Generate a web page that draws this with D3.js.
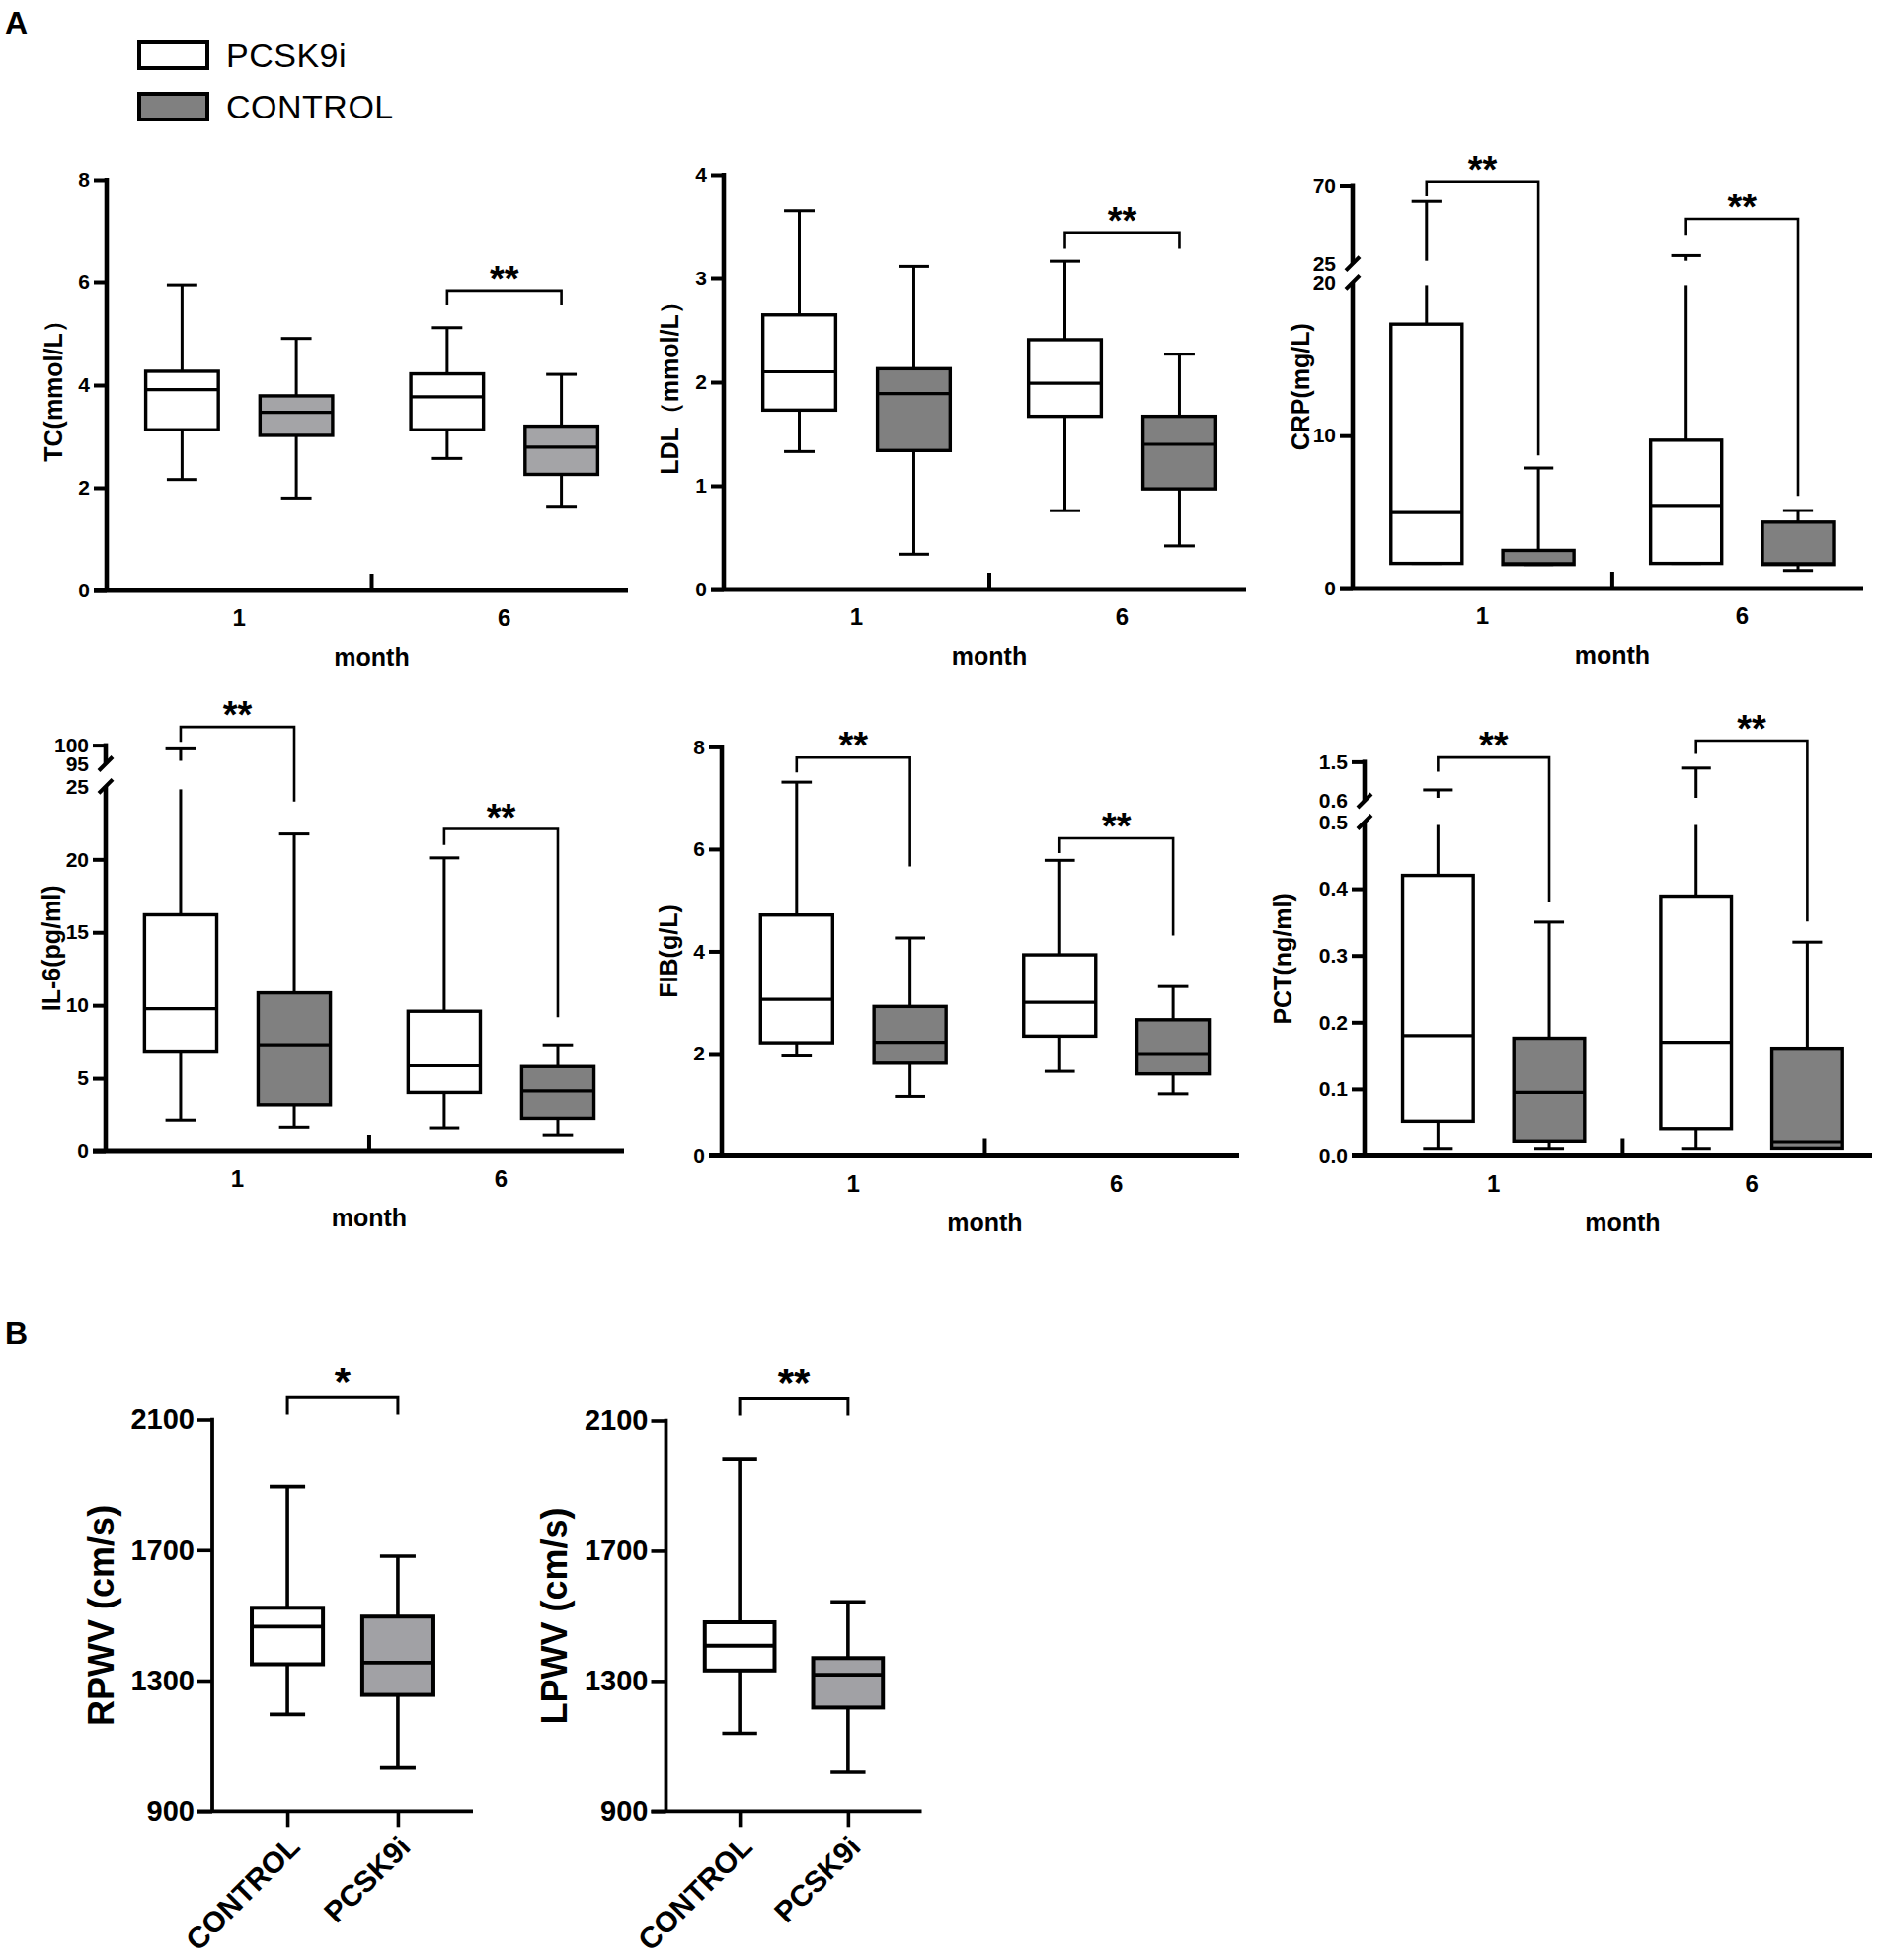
<!DOCTYPE html>
<html>
<head>
<meta charset="utf-8">
<script src="https://cdn.jsdelivr.net/npm/d3@7"></script>
<style>
  body { margin: 0; background: #fff; }
  text { font-family: "Liberation Sans", Arial, sans-serif; }
</style>
</head>
<body>
<svg id="chart"></svg>
<script>
// ---- data ----
const months = ["1", "6"];
const groups = ["PCSK9i", "CONTROL"];
const pairGroups = ["CONTROL", "PCSK9i"];

// [min, Q1, median, Q3, max], order: m1 PCSK9i, m1 CONTROL, m6 PCSK9i, m6 CONTROL
const tcStats = [[2.16, 3.13, 3.91, 4.27, 5.94], [1.80, 3.02, 3.47, 3.79, 4.91], [2.57, 3.13, 3.77, 4.22, 5.12], [1.64, 2.26, 2.79, 3.20, 4.21]];
const ldlStats = [[1.33, 1.73, 2.10, 2.65, 3.65], [0.34, 1.34, 1.89, 2.13, 3.12], [0.76, 1.67, 1.99, 2.41, 3.17], [0.42, 0.97, 1.40, 1.67, 2.27]];
const crpStats = [[1.64, 1.64, 4.97, 17.3, 60.5], [1.57, 1.57, 1.62, 2.49, 7.88], [1.64, 1.64, 5.43, 9.7, 29.7], [1.18, 1.57, 1.62, 4.34, 5.10]];
const il6Stats = [[2.15, 6.86, 9.76, 16.2, 99.0], [1.67, 3.19, 7.29, 10.85, 21.74], [1.62, 4.03, 5.85, 9.59, 20.1], [1.14, 2.27, 4.13, 5.80, 7.29]];
const fibStats = [[1.97, 2.21, 3.06, 4.71, 7.31], [1.16, 1.81, 2.22, 2.92, 4.26], [1.65, 2.34, 3.00, 3.93, 5.78], [1.21, 1.60, 2.00, 2.66, 3.31]];
const pctStats = [[0.01, 0.052, 0.18, 0.42, 0.851], [0.01, 0.021, 0.095, 0.176, 0.35], [0.01, 0.041, 0.17, 0.389, 1.354], [0.0105, 0.0105, 0.02, 0.161, 0.32]];

const tcTicks = [0, 2, 4, 6, 8];
const ldlTicks = [0, 1, 2, 3, 4];
const crpTicks = [0, 10, 20, 25, 70];
const il6Ticks = [0, 5, 10, 15, 20, 25, 95, 100];
const fibTicks = [0, 2, 4, 6, 8];
const pctTicks = [0, 0.1, 0.2, 0.3, 0.4, 0.5, 0.6, 1.5];

// significance brackets: month, top of bracket, left/right leg ends
const tcSig = [{ month: "6", top: 5.83, left: 5.56, right: 5.56, label: "**" }];
const ldlSig = [{ month: "6", top: 3.44, left: 3.29, right: 3.29, label: "**" }];
const crpSig = [{ month: "1", top: 72.1, left: 64.1, right: 8.71, label: "**" },
                { month: "6", top: 50.4, left: 41.2, right: 6.06, label: "**" }];
const il6Sig = [{ month: "1", top: 104.9, left: 100.9, right: 23.96, label: "**" },
                { month: "6", top: 22.08, left: 20.99, right: 9.18, label: "**" }];
const fibSig = [{ month: "1", top: 7.79, left: 7.50, right: 5.66, label: "**" },
                { month: "6", top: 6.21, left: 5.92, right: 4.31, label: "**" }];
const pctSig = [{ month: "1", top: 1.598, left: 1.273, right: 0.381, label: "**" },
                { month: "6", top: 1.987, left: 1.679, right: 0.351, label: "**" }];

// panel B: CONTROL, PCSK9i
const rpwvStats = [[1196, 1350, 1465, 1523, 1894], [1032, 1256, 1355, 1496, 1681]];
const lpwvStats = [[1139, 1332, 1408, 1480, 1980], [1019, 1218, 1319, 1370, 1543]];
const pwvTicks = [900, 1300, 1700, 2100];
const rpwvSig = { top: 2167, leg: 2115, label: "*" };
const lpwvSig = { top: 2167, leg: 2115, label: "**" };

// ---- drawing ----
const svg = d3.select("#chart")
  .attr("width", 1902)
  .attr("height", 1985);

const black = "#000";

// panel letters
svg.append("text").attr("x", 5).attr("y", 34)
  .attr("font-size", 32).attr("font-weight", "bold").text("A");
svg.append("text").attr("x", 5).attr("y", 1361)
  .attr("font-size", 32).attr("font-weight", "bold").text("B");

// legend
const legendFill = { PCSK9i: "#ffffff", CONTROL: "#808080" };
groups.forEach((grp, i) => {
  const ly = 43 + i * 52;
  svg.append("rect")
    .attr("x", 141).attr("y", ly).attr("width", 69).attr("height", 26)
    .attr("fill", legendFill[grp]).attr("stroke", black).attr("stroke-width", 4);
  svg.append("text")
    .attr("x", 229).attr("y", ly + 25)
    .attr("font-size", 34).attr("letter-spacing", 0.5).text(grp);
});

const panelsA = [
  { stats: tcStats, ticks: tcTicks, sig: tcSig, title: "TC(mmol/L）", left: 108, width: 528,
    domain: [0, 8], range: [598, 182], gray: "#a4a4a7", titleOffset: 54, format: d3.format("d") },
  { stats: ldlStats, ticks: ldlTicks, sig: ldlSig, title: "LDL（mmol/L）", left: 733, width: 529,
    domain: [0, 4], range: [597, 177], gray: "#808080", titleOffset: 55, format: d3.format("d") },
  { stats: crpStats, ticks: crpTicks, sig: crpSig, title: "CRP(mg/L)", left: 1370, width: 517,
    domain: [0, 20, 25, 70], range: [596, 286.4, 266.7, 187.5], gray: "#808080", titleOffset: 53, format: d3.format("d") },
  { stats: il6Stats, ticks: il6Ticks, sig: il6Sig, title: "IL-6(pg/ml)", left: 107, width: 525,
    domain: [0, 25, 95, 100], range: [1166, 796.4, 773.5, 754.6], gray: "#808080", titleOffset: 55, format: d3.format("d") },
  { stats: fibStats, ticks: fibTicks, sig: fibSig, title: "FIB(g/L)", left: 731, width: 524,
    domain: [0, 8], range: [1170.5, 756.4], gray: "#808080", titleOffset: 54, format: d3.format("d") },
  { stats: pctStats, ticks: pctTicks, sig: pctSig, title: "PCT(ng/ml)", left: 1382, width: 514,
    domain: [0, 0.5, 0.6, 1.5], range: [1170.5, 832.5, 811, 771.4], gray: "#808080", titleOffset: 83, format: d3.format(".1f") }
];

function drawPanel(p) {
  const g = svg.append("g").attr("transform", `translate(${p.left},0)`);
  const bandW = p.width * 1.017;
  const x0 = d3.scaleBand().domain(months).range([0, bandW]);
  const xi = d3.scalePoint().domain(groups).range([0, x0.bandwidth()]).padding(0.66);
  const bw = bandW * 0.137;
  const y = d3.scaleLinear().domain(p.domain).range(p.range);
  const y0 = y(0);
  const broken = p.domain.length === 4;
  const segs = broken ? [[p.domain[0], p.domain[1]], [p.domain[2], p.domain[3]]] : [p.domain];
  const breakVals = broken ? [p.domain[1], p.domain[2]] : [];
  const fill = { PCSK9i: "#ffffff", CONTROL: p.gray };

  // y axis
  const ya = g.append("g")
    .call(d3.axisLeft(y).tickValues(p.ticks).tickSize(13).tickPadding(4).tickFormat(p.format));
  ya.select(".domain").remove();
  ya.selectAll(".tick line")
    .attr("stroke", black).attr("stroke-width", 4)
    .attr("display", (d) => breakVals.includes(d) ? "none" : null);
  ya.selectAll(".tick text")
    .attr("fill", black).attr("font-size", 21).attr("font-weight", "bold")
    .attr("font-family", "Liberation Sans, Arial, sans-serif");

  segs.forEach(([a, b], k) => {
    g.append("line")
      .attr("x1", 0).attr("x2", 0)
      .attr("y1", k === 0 ? y(a) + 2 : y(a))
      .attr("y2", k === segs.length - 1 ? y(b) - 2 : y(b))
      .attr("stroke", black).attr("stroke-width", 4.6);
  });
  breakVals.forEach((v) => {
    const yy = y(v);
    g.append("line")
      .attr("x1", -7).attr("y1", yy + 7).attr("x2", 7).attr("y2", yy - 7)
      .attr("stroke", black).attr("stroke-width", 4);
  });

  // x axis
  g.append("line")
    .attr("x1", -13).attr("x2", p.width).attr("y1", y0).attr("y2", y0)
    .attr("stroke", black).attr("stroke-width", 4.8);
  g.append("line")
    .attr("x1", x0("6")).attr("x2", x0("6")).attr("y1", y0).attr("y2", y0 - 17)
    .attr("stroke", black).attr("stroke-width", 4);
  const xa = g.append("g")
    .attr("transform", `translate(0,${y0})`)
    .call(d3.axisBottom(x0).tickSize(0).tickPadding(19));
  xa.select(".domain").remove();
  xa.selectAll(".tick text")
    .attr("fill", black).attr("font-size", 24).attr("font-weight", "bold")
    .attr("font-family", "Liberation Sans, Arial, sans-serif");

  g.append("text")
    .attr("x", bandW / 2).attr("y", y0 + 76)
    .attr("text-anchor", "middle").attr("font-size", 25).attr("font-weight", "bold")
    .text("month");

  const yMid = (p.range[0] + p.range[p.range.length - 1]) / 2;
  g.append("text")
    .attr("transform", `translate(${-p.titleOffset},${yMid}) rotate(-90)`)
    .attr("text-anchor", "middle").attr("dy", "0.35em")
    .attr("font-size", 25).attr("font-weight", "bold")
    .text(p.title);

  // whisker pieces clipped to the axis segments
  const pieces = (a, b) => segs.map(([s0, s1], k) => {
    const lo = Math.max(a, s0), hi = Math.min(b, s1);
    if (lo >= hi) return null;
    let y1 = y(lo), y2 = y(hi);
    if (broken && k === 0 && b > s1) y2 += 3;
    if (broken && k === 1 && a < s0) y1 -= 3;
    return [y1, y2];
  }).filter(Boolean);

  p.stats.forEach((s, i) => {
    const m = months[Math.floor(i / 2)];
    const grp = groups[i % 2];
    const cx = x0(m) + xi(grp);
    const [lo, q1, md, q3, hi] = s;
    [[lo, q1], [q3, hi]].forEach(([a, b]) => {
      pieces(a, b).forEach(([y1, y2]) => {
        g.append("line")
          .attr("x1", cx).attr("x2", cx).attr("y1", y1).attr("y2", y2)
          .attr("stroke", black).attr("stroke-width", 3);
      });
    });
    [lo, hi].forEach((v) => {
      g.append("line")
        .attr("x1", cx - bw * 0.21).attr("x2", cx + bw * 0.21)
        .attr("y1", y(v)).attr("y2", y(v))
        .attr("stroke", black).attr("stroke-width", 3);
    });
    g.append("rect")
      .attr("x", cx - bw / 2).attr("y", y(q3))
      .attr("width", bw).attr("height", y(q1) - y(q3))
      .attr("fill", fill[grp]).attr("stroke", black).attr("stroke-width", 3.4);
    g.append("line")
      .attr("x1", cx - bw / 2).attr("x2", cx + bw / 2)
      .attr("y1", y(md)).attr("y2", y(md))
      .attr("stroke", black).attr("stroke-width", 3.2);
  });

  p.sig.forEach((s) => {
    const xl = x0(s.month) + xi("PCSK9i");
    const xr = x0(s.month) + xi("CONTROL");
    g.append("path")
      .attr("d", `M${xl},${y(s.left)}V${y(s.top)}H${xr}V${y(s.right)}`)
      .attr("fill", "none").attr("stroke", black).attr("stroke-width", 2.6);
    g.append("text")
      .attr("x", (xl + xr) / 2).attr("y", y(s.top) + 1)
      .attr("text-anchor", "middle").attr("font-size", 38).attr("font-weight", "bold")
      .text(s.label);
  });
}

panelsA.forEach(drawPanel);

// ---- panel B ----
const panelsB = [
  { stats: rpwvStats, sig: rpwvSig, title: "RPWV (cm/s)", left: 215, width: 264, range: [1834.3, 1437.5] },
  { stats: lpwvStats, sig: lpwvSig, title: "LPWV (cm/s)", left: 674.5, width: 259, range: [1834.3, 1438.5] }
];
const pairFill = { CONTROL: "#ffffff", PCSK9i: "#a1a1a5" };

function drawPair(p) {
  const g = svg.append("g").attr("transform", `translate(${p.left},0)`);
  const x = d3.scalePoint().domain(pairGroups).range([0, p.width]).padding(0.68);
  const bw = p.width * 0.273;
  const y = d3.scaleLinear().domain([900, 2100]).range(p.range);
  const yb = y(900);

  const ya = g.append("g")
    .call(d3.axisLeft(y).tickValues(pwvTicks).tickSize(15).tickPadding(3).tickFormat(d3.format("d")));
  ya.select(".domain").remove();
  ya.selectAll(".tick line").attr("stroke", black).attr("stroke-width", 3.6);
  ya.selectAll(".tick text")
    .attr("fill", black).attr("font-size", 29).attr("font-weight", "bold")
    .attr("font-family", "Liberation Sans, Arial, sans-serif");
  g.append("line")
    .attr("x1", 0).attr("x2", 0).attr("y1", yb + 1.8).attr("y2", y(2100) - 1.8)
    .attr("stroke", black).attr("stroke-width", 3.8);

  g.append("line")
    .attr("x1", -15).attr("x2", p.width).attr("y1", yb).attr("y2", yb)
    .attr("stroke", black).attr("stroke-width", 3.8);
  const xa = g.append("g")
    .attr("transform", `translate(0,${yb})`)
    .call(d3.axisBottom(x).tickSize(16));
  xa.select(".domain").remove();
  xa.selectAll(".tick line").attr("stroke", black).attr("stroke-width", 3.6);
  xa.selectAll(".tick text")
    .attr("x", null).attr("y", null).attr("dy", null)
    .attr("text-anchor", "end")
    .attr("transform", "translate(14,38) rotate(-45)")
    .attr("fill", black).attr("font-size", 30).attr("font-weight", "bold")
    .attr("font-family", "Liberation Sans, Arial, sans-serif");

  g.append("text")
    .attr("transform", `translate(-113,${(p.range[0] + p.range[1]) / 2}) rotate(-90)`)
    .attr("text-anchor", "middle").attr("dy", "0.35em")
    .attr("font-size", 36).attr("font-weight", "bold")
    .text(p.title);

  p.stats.forEach((s, i) => {
    const grp = pairGroups[i];
    const cx = x(grp);
    const [lo, q1, md, q3, hi] = s;
    [[lo, q1], [q3, hi]].forEach(([a, b]) => {
      g.append("line")
        .attr("x1", cx).attr("x2", cx).attr("y1", y(a)).attr("y2", y(b))
        .attr("stroke", black).attr("stroke-width", 3.6);
    });
    [lo, hi].forEach((v) => {
      g.append("line")
        .attr("x1", cx - bw * 0.25).attr("x2", cx + bw * 0.25)
        .attr("y1", y(v)).attr("y2", y(v))
        .attr("stroke", black).attr("stroke-width", 3.6);
    });
    g.append("rect")
      .attr("x", cx - bw / 2).attr("y", y(q3))
      .attr("width", bw).attr("height", y(q1) - y(q3))
      .attr("fill", pairFill[grp]).attr("stroke", black).attr("stroke-width", 4);
    g.append("line")
      .attr("x1", cx - bw / 2).attr("x2", cx + bw / 2)
      .attr("y1", y(md)).attr("y2", y(md))
      .attr("stroke", black).attr("stroke-width", 3.8);
  });

  const xl = x("CONTROL"), xr = x("PCSK9i");
  g.append("path")
    .attr("d", `M${xl},${y(p.sig.leg)}V${y(p.sig.top)}H${xr}V${y(p.sig.leg)}`)
    .attr("fill", "none").attr("stroke", black).attr("stroke-width", 3);
  g.append("text")
    .attr("x", (xl + xr) / 2).attr("y", y(p.sig.top) - 1)
    .attr("text-anchor", "middle").attr("font-size", 42).attr("font-weight", "bold")
    .text(p.sig.label);
}

panelsB.forEach(drawPair);
</script>
</body>
</html>
